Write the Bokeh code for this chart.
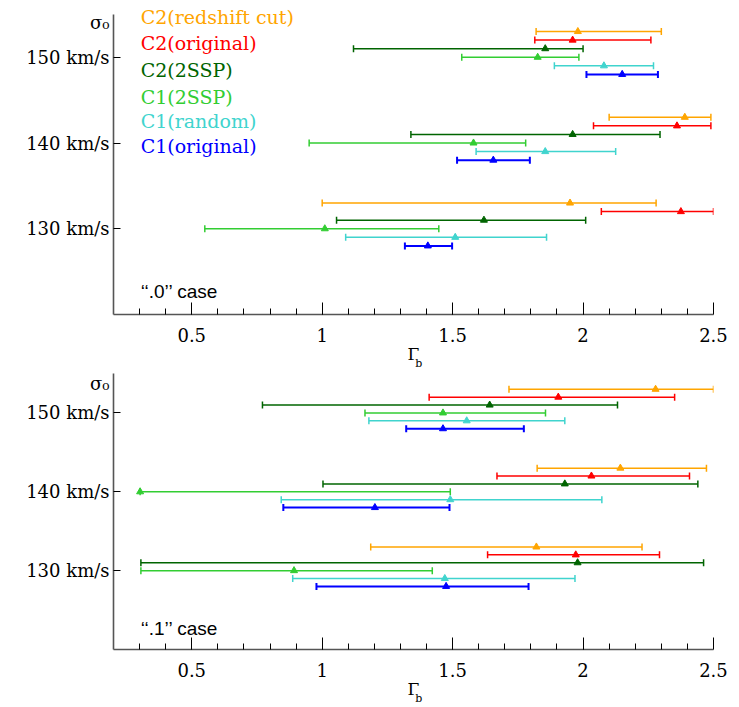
import numpy as np
from bokeh.plotting import figure
from bokeh.models import ColumnDataSource, FixedTicker, Label, LinearAxis
from bokeh.layouts import column
from bokeh.embed import file_html
from bokeh.resources import INLINE

# ---------------- data ----------------
sigma = [150, 140, 130]
series = ["C2(redshift cut)", "C2(original)", "C2(2SSP)", "C1(2SSP)", "C1(random)", "C1(original)"]
colors = ["#FFA500", "#FF0000", "#006400", "#32CD32", "#40D4CE", "#0000FF"]
row_offset = [3, 2, 1, 0, -1, -2]

# ".0" case: per series, values for sigma = 150, 140, 130
c0_lo = [[1.82, 2.10, 1.00], [1.815, 2.04, 2.07], [1.12, 1.34, 1.055],
         [1.535, 0.95, 0.55], [1.89, 1.59, 1.09], [2.013, 1.517, 1.317]]
c0_mid = [[1.98, 2.39, 1.95], [1.96, 2.36, 2.375], [1.855, 1.96, 1.62],
          [1.826, 1.58, 1.01], [2.08, 1.855, 1.51], [2.15, 1.656, 1.405]]
c0_hi = [[2.30, 2.49, 2.28], [2.26, 2.49, 2.50], [2.00, 2.295, 2.01],
         [1.984, 1.78, 1.447], [2.27, 2.125, 1.86], [2.287, 1.796, 1.498]]

# ".1" case
c1_lo = [[1.716, 1.824, 1.186], [1.41, 1.67, 1.634], [0.771, 1.003, 0.305],
         [1.164, 0.302, 0.305], [1.179, 0.843, 0.887], [1.322, 0.851, 0.978]]
c1_mid = [[2.278, 2.143, 1.821], [1.905, 2.032, 1.972], [1.642, 1.93, 1.979],
          [1.463, 0.302, 0.892], [1.554, 1.491, 1.47], [1.463, 1.202, 1.475]]
c1_hi = [[2.50, 2.473, 2.226], [2.351, 2.408, 2.293], [2.132, 2.44, 2.462],
         [1.856, 1.491, 1.422], [1.93, 2.072, 1.969], [1.773, 1.488, 1.791]]

x_ticks = [0.5, 1, 1.5, 2, 2.5]
x_labels = ["0.5", "1", "1.5", "2", "2.5"]
x_minor = [round(v, 1) for v in np.arange(0.3, 2.45, 0.1)]
y_ticks = [130, 140, 150]
y_labels = ["130 km/s", "140 km/s", "150 km/s"]
y_title_pos = 154
y_title = "σ₀"
x_title = "Γ"
x_title_sub = "\u00a0\u00a0\u00a0b"
legend_y = [154.65, 151.65, 148.53, 145.42, 142.53, 139.65]

X_RANGE = (0.2, 2.5)
Y_BOUNDS = (120, 155)

SERIF = "DejaVu Serif"


def make_panel(lo, mid, hi, height, b_top, b_bottom, y_top, case_text, legend):
    p = figure(width=730, height=height, x_range=X_RANGE, y_range=(Y_BOUNDS[0], y_top),
               output_backend="svg", toolbar_location=None,
               min_border_left=113, min_border_right=17,
               min_border_top=b_top, min_border_bottom=b_bottom)
    p.outline_line_color = None
    p.grid.visible = False
    p.background_fill_color = "white"
    p.border_fill_color = "white"

    # ---- x axis (ticks, labels, Gamma) ----
    xa = p.xaxis[0]
    xa.ticker = FixedTicker(ticks=x_ticks, minor_ticks=x_minor)
    xa.major_label_overrides = {t: l for t, l in zip(x_ticks, x_labels)}
    xa.major_tick_in = 12
    xa.major_tick_out = 0
    xa.minor_tick_in = 6
    xa.minor_tick_out = 0
    xa.major_label_text_font = SERIF
    xa.major_label_text_font_size = "18px"
    xa.major_label_text_color = "black"
    xa.major_label_standoff = 13
    xa.axis_line_color = "#555555"
    xa.axis_line_width = 1.6
    xa.major_tick_line_color = "black"
    xa.minor_tick_line_color = "black"
    xa.axis_label = x_title
    xa.axis_label_text_font = SERIF
    xa.axis_label_text_font_style = "normal"
    xa.axis_label_text_font_size = "17px"
    xa.axis_label_text_color = "black"
    xa.axis_label_standoff = -1

    # subscript "b" of the x title, on an empty second axis
    xb = LinearAxis(ticker=FixedTicker(ticks=[]), axis_label=x_title_sub,
                    axis_line_color=None, major_tick_line_color=None,
                    minor_tick_line_color=None, major_tick_in=0, major_tick_out=0,
                    minor_tick_in=0, minor_tick_out=0, major_label_standoff=0,
                    axis_label_standoff=-10, axis_label_text_font=SERIF,
                    axis_label_text_font_style="normal",
                    axis_label_text_color="black",
                    axis_label_text_font_size="11px")
    p.add_layout(xb, "below")

    # ---- y axis: inner one with line + ticks ----
    ya = p.yaxis[0]
    ya.ticker = FixedTicker(ticks=y_ticks, minor_ticks=[])
    ya.major_label_overrides = {t: "" for t in y_ticks}
    ya.bounds = Y_BOUNDS
    ya.major_tick_in = 7
    ya.major_tick_out = 0
    ya.minor_tick_in = 0
    ya.minor_tick_out = 0
    ya.major_label_standoff = 0
    ya.major_label_text_font_size = "1px"
    ya.axis_line_color = "#555555"
    ya.axis_line_width = 1.6
    ya.major_tick_line_color = "black"

    # outer y axis: only the labels (incl. sigma_0 title)
    yl_ticks = y_ticks + [y_title_pos]
    yl_labels = y_labels + [y_title]
    yl = LinearAxis(ticker=FixedTicker(ticks=yl_ticks, minor_ticks=[]),
                    major_label_overrides={t: l for t, l in zip(yl_ticks, yl_labels)},
                    axis_line_color=None, major_tick_line_color=None,
                    minor_tick_line_color=None, major_tick_in=0, major_tick_out=0,
                    minor_tick_in=0, minor_tick_out=0, major_label_standoff=4,
                    major_label_text_font=SERIF, major_label_text_font_size="18px",
                    major_label_text_color="black")
    p.add_layout(yl, "left")

    for i, name in enumerate(series):
        ys = [s + row_offset[i] for s in sigma]
        src = ColumnDataSource(dict(lo=lo[i], mid=mid[i], hi=hi[i], y=ys))
        lw = 2 if i == 5 else 1.5
        p.segment(x0="lo", y0="y", x1="hi", y1="y", source=src,
                  line_color=colors[i], line_width=lw)
        p.scatter(x="lo", y="y", source=src, marker="dash", angle=np.pi / 2,
                  size=7, line_color=colors[i], line_width=lw)
        p.scatter(x="hi", y="y", source=src, marker="dash", angle=np.pi / 2,
                  size=7, line_color=colors[i], line_width=lw)
        p.scatter(x="mid", y="y", source=src, marker="triangle", size=7,
                  fill_color=colors[i], line_color=colors[i])

    if legend:
        for i, name in enumerate(series):
            p.add_layout(Label(x=0.304, y=legend_y[i], text=name, text_color=colors[i],
                               text_font=SERIF, text_font_size="19px",
                               text_baseline="middle", text_align="left"))

    p.add_layout(Label(x=0.304, y=122.7, text=case_text, text_color="black",
                       text_font="Liberation Sans", text_font_size="19px",
                       text_baseline="middle", text_align="left"))
    return p


# top: frame 6..317 (range extended above 155 so the legend is not clipped)
p1 = make_panel(c0_lo, c0_mid, c0_hi, 372, 6, 55, 155.92, "‘‘.0’’ case", True)
# bottom: frame 373..652
p2 = make_panel(c1_lo, c1_mid, c1_hi, 335, 1, 55, 155, "‘‘.1’’ case", False)

layout = column(p1, p2, spacing=0)
open("out.html", "w").write(file_html(layout, INLINE))
